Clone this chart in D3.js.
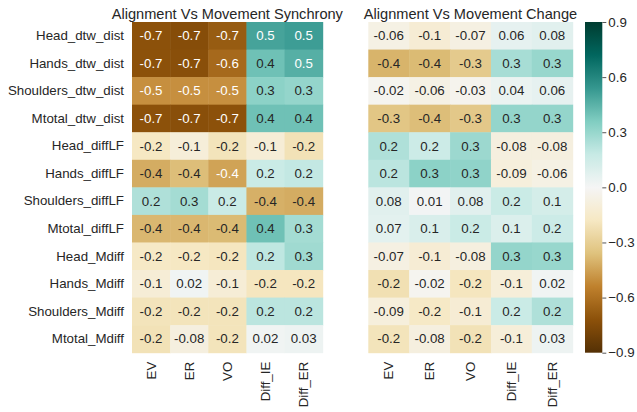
<!DOCTYPE html>
<html><head><meta charset="utf-8">
<script src="https://cdn.jsdelivr.net/npm/d3@7"></script>
<style>
html,body{margin:0;padding:0;background:#fff;}
svg{display:block;}
text{font-family:"Liberation Sans",Arial,sans-serif;}
</style></head>
<body>
<svg id="chart" width="637" height="412"></svg>
<script>
const rows = ["Head_dtw_dist","Hands_dtw_dist","Shoulders_dtw_dist","Mtotal_dtw_dist",
  "Head_diffLF","Hands_diffLF","Shoulders_diffLF","Mtotal_diffLF",
  "Head_Mdiff","Hands_Mdiff","Shoulders_Mdiff","Mtotal_Mdiff"];
const cols = ["EV","ER","VO","Diff_IE","Diff_ER"];
const titleSync = "Alignment Vs Movement Synchrony";
const titleChange = "Alignment Vs Movement Change";

const syncValues = [
  [-0.72,-0.74,-0.68, 0.50, 0.52],
  [-0.72,-0.73,-0.63, 0.40, 0.46],
  [-0.50,-0.50,-0.50, 0.33, 0.31],
  [-0.72,-0.73,-0.72, 0.40, 0.40],
  [-0.18,-0.10,-0.20,-0.11,-0.21],
  [-0.42,-0.37,-0.447,0.17, 0.19],
  [ 0.24, 0.27, 0.17,-0.41,-0.42],
  [-0.39,-0.39,-0.38, 0.40, 0.27],
  [-0.17,-0.18,-0.19, 0.20, 0.28],
  [-0.11, 0.02,-0.11,-0.19,-0.19],
  [-0.20,-0.20,-0.20, 0.21, 0.21],
  [-0.21,-0.08,-0.20, 0.02, 0.03]
];
const changeValues = [
  [-0.06,-0.12,-0.07, 0.06, 0.08],
  [-0.40,-0.38,-0.32, 0.26, 0.30],
  [-0.02,-0.06,-0.03, 0.04, 0.06],
  [-0.34,-0.37,-0.33, 0.31, 0.31],
  [ 0.24, 0.16, 0.29,-0.08,-0.08],
  [ 0.21, 0.33, 0.32,-0.09,-0.06],
  [ 0.08, 0.01, 0.08, 0.17, 0.13],
  [ 0.07, 0.11, 0.17, 0.10, 0.16],
  [-0.07,-0.12,-0.08, 0.31, 0.30],
  [-0.22,-0.02,-0.19,-0.10, 0.02],
  [-0.09,-0.17,-0.12, 0.17, 0.24],
  [-0.20,-0.08,-0.21,-0.10, 0.03]
];
const cbarTicks = [0.9,0.6,0.3,0.0,-0.3,-0.6,-0.9];
const vmin = -0.9, vmax = 0.9;

// matplotlib BrBG (linear segmented)
const brbg = ["#543005","#8c510a","#bf812d","#dfc27d","#f6e8c3","#f5f5f5",
              "#c7eae5","#80cdc1","#35978f","#01665e","#003c30"];
const color = d3.scaleLinear()
  .domain(d3.range(brbg.length).map(i => vmin + i*(vmax-vmin)/(brbg.length-1)))
  .range(brbg).interpolate(d3.interpolateRgb).clamp(true);

const svg = d3.select("#chart");
const txt = "#262626";
const fs = 13.3;
const plotTop = 22, plotBottom = 352.7;
const locale = d3.formatLocale({decimal:".",thousands:",",grouping:[3],currency:["",""],minus:"-"});
const fmt = locale.format(".1g");

function lum(c){
  const r = d3.rgb(c);
  const f = v => { v/=255; return v<=0.03928 ? v/12.92 : Math.pow((v+0.055)/1.055,2.4); };
  return 0.2126*f(r.r)+0.7152*f(r.g)+0.0722*f(r.b);
}

function heat(values, x0, x1, title, showY){
  const x = d3.scaleBand().domain(cols).range([x0,x1]);
  const y = d3.scaleBand().domain(rows).range([plotTop,plotBottom]);
  const g = svg.append("g");
  rows.forEach((r,i)=>{
    cols.forEach((c,j)=>{
      const v = values[i][j];
      g.append("rect").attr("x",x(c)).attr("y",y(r))
        .attr("width",x.bandwidth()+0.5).attr("height",y.bandwidth()+0.5)
        .attr("fill",color(v));
    });
  });
  rows.forEach((r,i)=>{
    cols.forEach((c,j)=>{
      const v = values[i][j];
      const fill = color(v);
      g.append("text").attr("x",x(c)+x.bandwidth()/2).attr("y",y(r)+y.bandwidth()/2)
        .attr("text-anchor","middle").attr("dominant-baseline","central")
        .attr("font-size",fs).attr("fill", lum(fill)>0.408 ? txt : "#ffffff")
        .text(fmt(v));
    });
  });
  const ax = svg.append("g").attr("transform",`translate(0,${plotBottom})`)
    .call(d3.axisBottom(x).tickSize(0).tickPadding(0));
  ax.select(".domain").remove();
  ax.selectAll("text").attr("font-size",fs).attr("fill",txt)
    .attr("font-family","Liberation Sans, Arial, sans-serif")
    .attr("transform","rotate(-90)").attr("text-anchor","end")
    .attr("dy",null).attr("y",0).attr("x",-9).attr("dominant-baseline","central");
  if(showY){
    const ay = svg.append("g").attr("transform",`translate(${x0},0)`)
      .call(d3.axisLeft(y).tickSize(0).tickPadding(8));
    ay.select(".domain").remove();
    ay.selectAll("text").attr("font-size",fs).attr("fill",txt)
      .attr("font-family","Liberation Sans, Arial, sans-serif");
  }
  svg.append("text").attr("x",(x0+x1)/2).attr("y",18.5).attr("text-anchor","middle")
    .attr("font-size",14.6).attr("fill",txt).text(title);
}

heat(syncValues, 132, 322.7, titleSync, true);
heat(changeValues, 368.3, 572.7, titleChange, false);

// colorbar
const cbX0 = 585, cbX1 = 602.3;
const cy = d3.scaleLinear().domain([vmin,vmax]).range([plotBottom,plotTop]);
const defs = svg.append("defs");
const grad = defs.append("linearGradient").attr("id","cbg")
  .attr("x1","0").attr("y1","1").attr("x2","0").attr("y2","0");
d3.range(0,1.0001,0.02).forEach(t=>{
  grad.append("stop").attr("offset",t).attr("stop-color",color(vmin+t*(vmax-vmin)));
});
svg.append("rect").attr("x",cbX0).attr("y",plotTop).attr("width",cbX1-cbX0)
  .attr("height",plotBottom-plotTop).attr("fill","url(#cbg)");
const cax = svg.append("g").attr("transform",`translate(${cbX1},0)`)
  .call(d3.axisRight(cy).tickValues(cbarTicks).tickSize(4).tickPadding(2)
    .tickFormat(d3.format(".1f")));
cax.select(".domain").remove();
cax.selectAll("line").attr("stroke","#555");
cax.selectAll("text").attr("font-size",fs).attr("fill",txt)
  .attr("font-family","Liberation Sans, Arial, sans-serif");
</script>
</body></html>
